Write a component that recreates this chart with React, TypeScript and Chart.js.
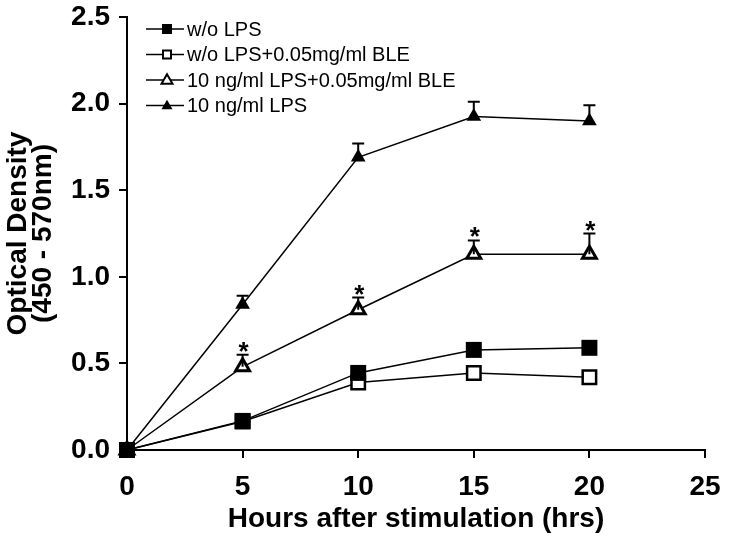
import React, { useEffect, useRef } from 'react';
import { Chart, registerables } from 'chart.js';

Chart.register(...registerables);

// ---- data ----
const hours = [0, 5, 10, 15, 20];
const woLPS = [0, 0.168, 0.445, 0.578, 0.59];
const woLPSBLE = [0, 0.165, 0.39, 0.445, 0.42];
const lpsBLE = [0, 0.48, 0.81, 1.13, 1.13];
const lpsBLEErr = [0, 0.07, 0.07, 0.08, 0.12];
const lps = [0, 0.84, 1.69, 1.925, 1.9];
const lpsErr = [0, 0.05, 0.08, 0.085, 0.09];
const significant = [false, true, true, true, true];
const seriesLabels = [
  'w/o LPS',
  'w/o LPS+0.05mg/ml BLE',
  '10 ng/ml LPS+0.05mg/ml BLE',
  '10 ng/ml LPS',
];
const xTitle = 'Hours after stimulation (hrs)';
const yTitle = ['Optical Density', '(450 - 570nm)'];

const FONT = "'Liberation Sans', Arial, Helvetica, sans-serif";

const toXY = (ys: number[]) => hours.map((h, i) => ({ x: h, y: ys[i] }));

type Marker = 'fsq' | 'osq' | 'otri' | 'ftri';
const markers: Marker[] = ['fsq', 'osq', 'otri', 'ftri'];

function drawMarker(ctx: CanvasRenderingContext2D, kind: Marker, x: number, y: number, s: number) {
  ctx.save();
  ctx.fillStyle = '#000';
  ctx.strokeStyle = '#000';
  if (kind === 'fsq') {
    ctx.fillRect(x - s / 2, y - s / 2, s, s);
  } else if (kind === 'osq') {
    ctx.fillStyle = '#fff';
    ctx.fillRect(x - s / 2, y - s / 2, s, s);
    ctx.lineWidth = 2;
    ctx.strokeRect(x - s / 2 + 1, y - s / 2 + 1, s - 2, s - 2);
  } else {
    const h = s * 0.87;
    ctx.beginPath();
    ctx.moveTo(x, y - h * 0.6);
    ctx.lineTo(x + s / 2, y + h * 0.4);
    ctx.lineTo(x - s / 2, y + h * 0.4);
    ctx.closePath();
    if (kind === 'ftri') {
      ctx.fill();
    } else {
      ctx.fillStyle = '#fff';
      ctx.fill();
      ctx.lineWidth = 2;
      ctx.stroke();
    }
  }
  ctx.restore();
}

const errorPlugin = {
  id: 'errorBars',
  afterDatasetsDraw(chart: any) {
    const { ctx, scales } = chart;
    const xs = scales.x;
    const ys = scales.y;
    const sets: { vals: number[]; errs: number[]; star: boolean }[] = [
      { vals: lpsBLE, errs: lpsBLEErr, star: true },
      { vals: lps, errs: lpsErr, star: false },
    ];
    ctx.save();
    ctx.strokeStyle = '#000';
    ctx.fillStyle = '#000';
    ctx.lineWidth = 2;
    sets.forEach((s) => {
      hours.forEach((h, i) => {
        if (!s.errs[i]) return;
        const px = xs.getPixelForValue(h);
        const py = ys.getPixelForValue(s.vals[i]);
        const pt = ys.getPixelForValue(s.vals[i] + s.errs[i]);
        ctx.beginPath();
        ctx.moveTo(px, py);
        ctx.lineTo(px, pt);
        ctx.moveTo(px - 6, pt);
        ctx.lineTo(px + 6, pt);
        ctx.stroke();
        if (s.star && significant[i]) {
          ctx.font = `bold 26px ${FONT}`;
          ctx.textAlign = 'center';
          ctx.textBaseline = 'alphabetic';
          const m = ctx.measureText('*');
          const desc = m.actualBoundingBoxDescent || 0;
          ctx.fillText('*', px + 1, pt - 3 - desc);
        }
      });
    });
    ctx.restore();
  },
};

const legendPlugin = {
  id: 'lineLegend',
  afterDraw(chart: any) {
    const { ctx } = chart;
    ctx.save();
    chart.data.datasets.forEach((ds: any, i: number) => {
      const y = 29 + i * 25.5;
      ctx.strokeStyle = '#000';
      ctx.lineWidth = 1.5;
      ctx.beginPath();
      ctx.moveTo(146, y);
      ctx.lineTo(184, y);
      ctx.stroke();
      const k = markers[i];
      drawMarker(ctx, k, 167, y, k === 'fsq' ? 10 : k === 'osq' ? 10 : 11);
      ctx.fillStyle = '#000';
      ctx.font = `20px ${FONT}`;
      ctx.textAlign = 'left';
      ctx.textBaseline = 'middle';
      ctx.fillText(ds.label, 187, y + 1);
    });
    ctx.restore();
  },
};

export default function App() {
  const ref = useRef<HTMLCanvasElement | null>(null);

  useEffect(() => {
    if (!ref.current) return;
    const common = {
      borderColor: '#000',
      borderWidth: 1.5,
      pointBorderColor: '#000',
      clip: false as any,
      tension: 0,
    };
    const chart = new Chart(ref.current, {
      type: 'line',
      data: {
        datasets: [
          {
            ...common,
            label: seriesLabels[0],
            data: toXY(woLPS),
            pointStyle: 'rect',
            pointRadius: 11.3,
            pointBackgroundColor: '#000',
            pointBorderWidth: 0,
          },
          {
            ...common,
            label: seriesLabels[1],
            data: toXY(woLPSBLE),
            pointStyle: 'rect',
            pointRadius: 9.5,
            pointBackgroundColor: '#fff',
            pointBorderWidth: 2.5,
          },
          {
            ...common,
            label: seriesLabels[2],
            data: toXY(lpsBLE),
            pointStyle: 'triangle',
            pointRadius: 8,
            pointBackgroundColor: '#fff',
            pointBorderWidth: 3,
          },
          {
            ...common,
            label: seriesLabels[3],
            data: toXY(lps),
            pointStyle: 'triangle',
            pointRadius: 8.5,
            pointBackgroundColor: '#000',
            pointBorderWidth: 0,
          },
        ],
      },
      options: {
        responsive: false,
        animation: false,
        events: [],
        layout: { padding: { top: 17, right: 27, left: 0, bottom: 0 } },
        plugins: {
          legend: { display: false },
          tooltip: { enabled: false },
        },
        scales: {
          x: {
            type: 'linear',
            min: 0,
            max: 25,
            afterFit: (s: any) => {
              s.height = 88;
              s.paddingLeft = 0;
              s.paddingRight = 0;
            },
            ticks: {
              stepSize: 5,
              color: '#000',
              padding: 15,
              font: { family: FONT, size: 28, weight: 'bold', lineHeight: 1 },
            },
            grid: {
              drawOnChartArea: false,
              drawTicks: true,
              tickLength: 8,
              color: '#000',
              lineWidth: 2,
            },
            border: { display: true, color: '#000', width: 2 },
            title: {
              display: true,
              text: xTitle,
              color: '#000',
              font: { family: FONT, size: 28, weight: 'bold', lineHeight: 1 },
              padding: { top: 0, bottom: 5 },
            },
          },
          y: {
            type: 'linear',
            min: 0,
            max: 2.5,
            afterFit: (s: any) => {
              s.width = 127;
              s.paddingTop = 0;
              s.paddingBottom = 0;
            },
            ticks: {
              stepSize: 0.5,
              color: '#000',
              padding: 9,
              callback: (v: any) => Number(v).toFixed(1),
              font: { family: FONT, size: 28, weight: 'bold', lineHeight: 1 },
            },
            grid: {
              drawOnChartArea: false,
              drawTicks: true,
              tickLength: 8,
              color: '#000',
              lineWidth: 2,
            },
            border: { display: true, color: '#000', width: 2 },
            title: {
              display: true,
              text: yTitle,
              color: '#000',
              font: { family: FONT, size: 28, weight: 'bold', lineHeight: 0.92 },
              padding: { top: 5, bottom: 0 },
            },
          },
        },
      },
      plugins: [errorPlugin, legendPlugin],
    } as any);
    return () => chart.destroy();
  }, []);

  return (
    <div style={{ position: 'fixed', left: 0, top: 0, width: 732, height: 538, background: '#fff' }}>
      <canvas ref={ref} width={732} height={538} style={{ width: 732, height: 538, display: 'block' }} />
    </div>
  );
}
